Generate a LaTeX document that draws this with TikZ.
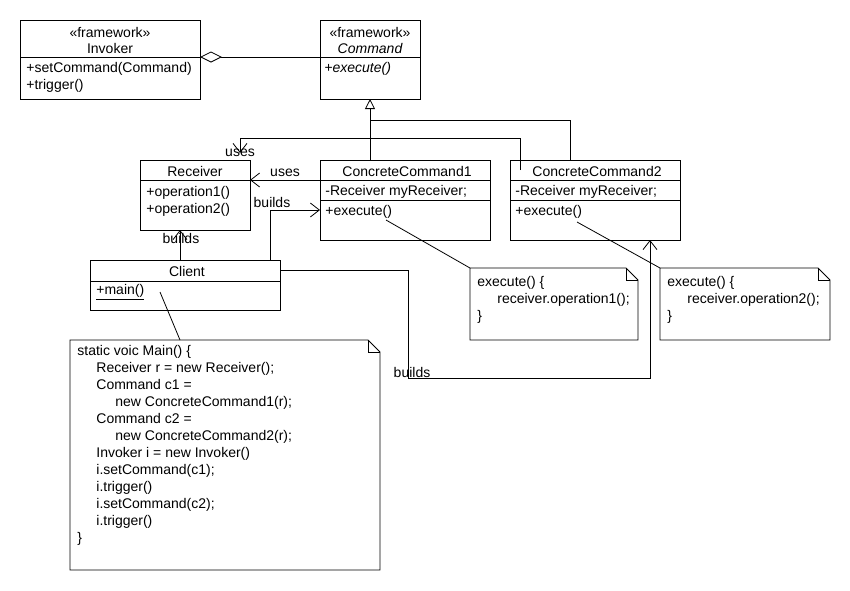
\documentclass[tikz,border=0pt]{standalone}
\usepackage{fontspec}
\setmainfont{Liberation Sans}
\usetikzlibrary{arrows.meta}
\begin{document}
\begin{tikzpicture}[x=1pt,y=-1pt,line width=0.8pt,
  every node/.style={font=\fontsize{14}{17}\selectfont,inner sep=0pt},
  t/.style={anchor=west},
  c/.style={anchor=center},
  box/.style={draw},
  open/.style={-{Straight Barb[length=9pt,width=14pt,line width=0.8pt]}},
  gen/.style={-{Triangle[open,length=10pt,width=10pt,fill=white]}},
  agg/.style={{Diamond[open,length=22pt,width=11pt,fill=white]}-}]
\useasboundingbox (0,0) rectangle (850,590);
% Invoker
\draw (20,20) rectangle (200,99); \draw (20,57)--(200,57);
\node[c] (invs) at (110,32) {«framework»};
\node[c] (invn) at (110,48) {Invoker};
\node[t] (inv1) at (26,69) {+setCommand(Command)};
\node[t] (inv2) at (26,86) {+trigger()};
\coordinate (invR) at (200,57);
% Command
\draw (320,20) rectangle (420,99); \draw (320,57)--(420,57);
\node[c] (cmds) at (370,32) {«framework»};
\node[c] (cmdn) at (370,48) {\itshape Command};
\node[t] (cmd1) at (324,69) {\itshape +execute()};
\coordinate (cmdL) at (320,57);
\coordinate (cmdB) at (370,99);
\draw[agg] (invR) -- (cmdL);
% Receiver
\draw (140,160) rectangle (250,230); \draw (140,180)--(250,180);
\node[c] (recn) at (195,171) {Receiver};
\node[t] (rec1) at (146,193) {+operation1()};
\node[t] (rec2) at (146,210) {+operation2()};
% CC1
\draw (320,160) rectangle (490,240); \draw (320,180)--(490,180); \draw (320,200)--(490,200);
\node[c] (c1n) at (407,171) {ConcreteCommand1};
\node[t] (c1a) at (325,192) {-Receiver myReceiver;};
\node[t] (c1b) at (325,212) {+execute()};
% CC2
\draw (510,160) rectangle (680,240); \draw (510,180)--(680,180); \draw (510,200)--(680,200);
\node[c] (c2n) at (597,171) {ConcreteCommand2};
\node[t] (c2a) at (515,192) {-Receiver myReceiver;};
\node[t] (c2b) at (515,212) {+execute()};
% Client
\draw (90,260) rectangle (280,310); \draw (90,281)--(280,281);
\node[c] (cln) at (187,271) {Client};
\node[t] (cl1) at (96,292) {\underline{+main()}};
% generalization
\draw[gen] (370,160) -- (cmdB);
\draw (370,120) -- (570,120) -- (570,160);
% uses from CC2
\draw[open] (520,170) -- (520,138) -- (240,138) -- (240,153);
\node[c] (u1) at (240,153) {uses};
\draw[open] (320,180) -- (250,180);
\node[c] (u2) at (285,173) {uses};
% builds
\draw[open] (180,260) -- (180,230);
\node[c] (b1) at (181,238) {builds};
\draw[open] (270,260) -- (270,210) -- (320,210);
\node[c] (b2) at (272,202) {builds};
\draw[open] (280,270) -- (408,270) -- (408,378) -- (650,378) -- (650,240);
\node[c] (b3) at (412,372) {builds};
% notes
\draw[fill=white] (470,268) -- (626,268) -- (638,280) -- (638,340) -- (470,340) -- cycle;
\draw (626,268) -- (626,280) -- (638,280);
\node[t] (n1a) at (477,283) {execute() \{};
\node[t] (n1b) at (497,300) {receiver.operation1();};
\node[t] (n1c) at (477,317) {\}};
\draw (386,220) -- (470,268);
\draw[fill=white] (660,268) -- (818,268) -- (830,280) -- (830,340) -- (660,340) -- cycle;
\draw (818,268) -- (818,280) -- (830,280);
\node[t] (n2a) at (667,283) {execute() \{};
\node[t] (n2b) at (687,300) {receiver.operation2();};
\node[t] (n2c) at (667,317) {\}};
\draw (577,222) -- (660,268);
\draw[fill=white] (70,340) -- (368,340) -- (380,352) -- (380,570) -- (70,570) -- cycle;
\draw (368,340) -- (368,352) -- (380,352);
\draw (160,292) -- (180,340);
\node[t,align=left,anchor=north west] (n3) at (77,345) {static voic Main() \{\\
\hspace*{19pt}Receiver r = new Receiver();\\
\hspace*{19pt}Command c1 =\\
\hspace*{38pt}new ConcreteCommand1(r);\\
\hspace*{19pt}Command c2 =\\
\hspace*{38pt}new ConcreteCommand2(r);\\
\hspace*{19pt}Invoker i = new Invoker()\\
\hspace*{19pt}i.setCommand(c1);\\
\hspace*{19pt}i.trigger()\\
\hspace*{19pt}i.setCommand(c2);\\
\hspace*{19pt}i.trigger()\\
\}};
\end{tikzpicture}
\end{document}
